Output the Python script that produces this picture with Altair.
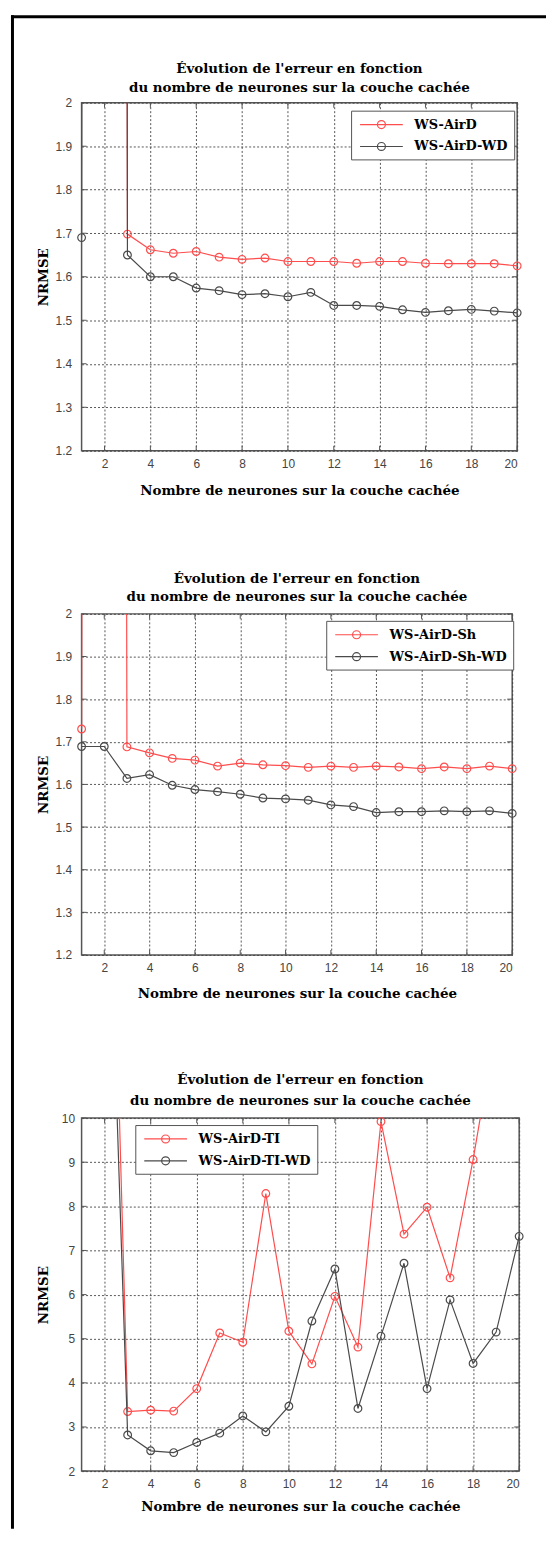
import altair as alt
import pandas as pd

# ---------------- data ----------------
X_VALUES = list(range(1, 21))
X_TICKS = [2, 4, 6, 8, 10, 12, 14, 16, 18, 20]

P1_NAMES = ["WS-AirD", "WS-AirD-WD"]
P1_RED = [12.0, 25.0, 1.698, 1.662, 1.654, 1.658, 1.645, 1.640, 1.643, 1.635,
          1.635, 1.635, 1.631, 1.635, 1.635, 1.631, 1.630, 1.630, 1.630, 1.625]
P1_BLACK = [1.690, 40.0, 1.650, 1.600, 1.600, 1.574, 1.568, 1.559, 1.561, 1.554,
            1.564, 1.534, 1.534, 1.532, 1.524, 1.518, 1.522, 1.525, 1.521, 1.517]

P2_NAMES = ["WS-AirD-Sh", "WS-AirD-Sh-WD"]
P2_RED = [1.730, 30.0, 1.688, 1.674, 1.661, 1.657, 1.643, 1.650, 1.646, 1.644,
          1.640, 1.643, 1.640, 1.643, 1.641, 1.637, 1.641, 1.637, 1.643, 1.637]
P2_BLACK = [1.689, 1.689, 1.614, 1.623, 1.598, 1.588, 1.583, 1.577, 1.568, 1.566,
            1.563, 1.552, 1.548, 1.534, 1.536, 1.536, 1.538, 1.536, 1.538, 1.532]

P3_NAMES = ["WS-AirD-TI", "WS-AirD-TI-WD"]
P3_RED = [20.0, 22.0, 3.35, 3.38, 3.36, 3.87, 5.13, 4.92, 8.29, 5.17,
          4.43, 5.96, 4.81, 9.92, 7.37, 7.98, 6.38, 9.06, 12.1, 14.0]
P3_BLACK = [15.0, 18.6, 2.82, 2.46, 2.42, 2.65, 2.86, 3.25, 2.89, 3.47,
            5.40, 6.58, 3.42, 5.06, 6.71, 3.87, 5.88, 4.44, 5.15, 7.32]

Y12_TICKS = [1.2, 1.3, 1.4, 1.5, 1.6, 1.7, 1.8, 1.9, 2.0]
Y3_TICKS = [2, 3, 4, 5, 6, 7, 8, 9, 10]

TITLE_LINES = ["Évolution de l'erreur en fonction",
               "du nombre de neurones sur la couche cachée"]
X_TITLE = "Nombre de neurones sur la couche cachée"
Y_TITLE = "NRMSE"

# ---------------- style ----------------
SERIF = "DejaVu Serif"
SANS = "Liberation Sans"
RED = "#ff4d4d"
BLACK = "#4a4a4a"
BOX = "#555555"
LEG_PATH = ("M-3,0L3,0M0.56,0A0.56,0.56,0,1,1,-0.56,0"
            "A0.56,0.56,0,1,1,0.56,0")


def panel(reds, blacks, names, ydom, yticks, yfmt, w, h, lx, ly,
          t_lh, t_off, xl_pad, xt_pad, yl_pad):
    rows = []
    for name, vals in ((names[0], reds), (names[1], blacks)):
        for x, v in zip(X_VALUES, vals):
            rows.append({"x": x, "v": v, "serie": name})
    df = pd.DataFrame(rows)

    xs = alt.Scale(domain=[1, 20], nice=False, zero=False)
    ys = alt.Scale(domain=ydom, nice=False, zero=False)
    xax = alt.Axis(values=X_TICKS, title=X_TITLE, format="d", grid=True,
                   ticks=False, domain=False, labelPadding=xl_pad,
                   titlePadding=xt_pad)
    yax = alt.Axis(values=yticks, title=Y_TITLE, format=yfmt, grid=True,
                   ticks=False, domain=False, labelPadding=yl_pad,
                   titleX=-38, titleY=h / 2, titleBaseline="middle",
                   titleAlign="center")
    color = alt.Color(
        "serie:N",
        scale=alt.Scale(domain=names, range=[RED, BLACK]),
        sort=names,
        legend=alt.Legend(
            title=None, orient="none", legendX=lx, legendY=ly,
            symbolType=LEG_PATH, symbolSize=205, symbolStrokeWidth=1.2,
            symbolFillColor="transparent", symbolOffset=16.5,
            labelFont=SERIF, labelFontSize=13, labelFontWeight="bold",
            labelColor="black", padding=6, rowPadding=7, labelOffset=25,
            strokeColor=BOX, fillColor="white", cornerRadius=0,
        ),
    )
    enc = dict(x=alt.X("x:Q", scale=xs, axis=xax),
               y=alt.Y("v:Q", scale=ys, axis=yax),
               color=color)
    base = alt.Chart(df)
    layers = []
    for name in names:
        layers.append(
            base.transform_filter(alt.datum.serie == name)
            .mark_line(clip=True, strokeWidth=1.2).encode(**enc))
        layers.append(
            base.transform_filter(alt.datum.serie == name)
            .transform_filter(alt.datum.v <= ydom[1])
            .mark_point(filled=False, size=60, strokeWidth=1.2, opacity=1)
            .encode(**enc))

    xt = alt.Chart(pd.DataFrame({"t": X_TICKS}))
    yt = alt.Chart(pd.DataFrame({"t": yticks}))
    tx = alt.X("t:Q", scale=xs, axis=xax)
    ty = alt.Y("t:Q", scale=ys, axis=yax)
    layers += [
        xt.mark_rule(color=BOX, strokeWidth=1).encode(
            x=tx, y=alt.value(h), y2=alt.value(h - 5)),
        xt.mark_rule(color=BOX, strokeWidth=1).encode(
            x=tx, y=alt.value(0), y2=alt.value(5)),
        yt.mark_rule(color=BOX, strokeWidth=1).encode(
            y=ty, x=alt.value(0), x2=alt.value(5)),
        yt.mark_rule(color=BOX, strokeWidth=1).encode(
            y=ty, x=alt.value(w - 5), x2=alt.value(w)),
    ]
    title = alt.TitleParams(
        text=TITLE_LINES, font=SERIF, fontSize=13.5, fontWeight="bold",
        color="black", anchor="middle", frame="group", offset=t_off,
        lineHeight=t_lh, baseline="bottom")
    return alt.layer(*layers).properties(
        width=w, height=h, title=title,
        view=alt.ViewBackground(stroke=BOX, strokeWidth=1.5))


p1 = panel(P1_RED, P1_BLACK, P1_NAMES, [1.2, 2.0], Y12_TICKS, ".1~f",
           438, 350, 271, 8, 18.5, -11.5, 8, 14, 10)
p2 = panel(P2_RED, P2_BLACK, P2_NAMES, [1.2, 2.0], Y12_TICKS, ".1~f",
           433, 343, 246, 7, 18.5, -10, 7.5, 13, 10)
p3 = panel(P3_RED, P3_BLACK, P3_NAMES, [2, 10], Y3_TICKS, "d",
           440, 355, 54, 7, 21, -9, 7.5, 10, 7)

frame_df = pd.DataFrame({"k": [0]})
frame = alt.layer(
    alt.Chart(frame_df).mark_rule(color="black", strokeWidth=3).encode(
        x=alt.value(1.5), y=alt.value(-88), y2=alt.value(1434)),
    alt.Chart(frame_df).mark_rule(color="black", strokeWidth=3).encode(
        x=alt.value(0), x2=alt.value(538), y=alt.value(-86.5)),
).properties(width=1, height=1,
             view=alt.ViewBackground(stroke="transparent"))

column = alt.vconcat(p1, p2, p3, spacing=164, bounds="flush").resolve_scale(
    color="independent", x="independent", y="independent")
chart = alt.hconcat(frame, column, spacing=70, bounds="flush").properties(
    padding={"left": 1, "top": 1, "right": 0, "bottom": 0},
    background="white",
).configure_axis(
    gridColor="#444444", gridDash=[2, 2], gridWidth=1, gridOpacity=0.9,
    labelFont=SANS, labelFontSize=12, labelColor="#444444",
    titleFont=SERIF, titleFontSize=13.5, titleFontWeight="bold",
    titleColor="black",
)

chart.save("out.html", embed_options={"renderer": "svg", "actions": False})
